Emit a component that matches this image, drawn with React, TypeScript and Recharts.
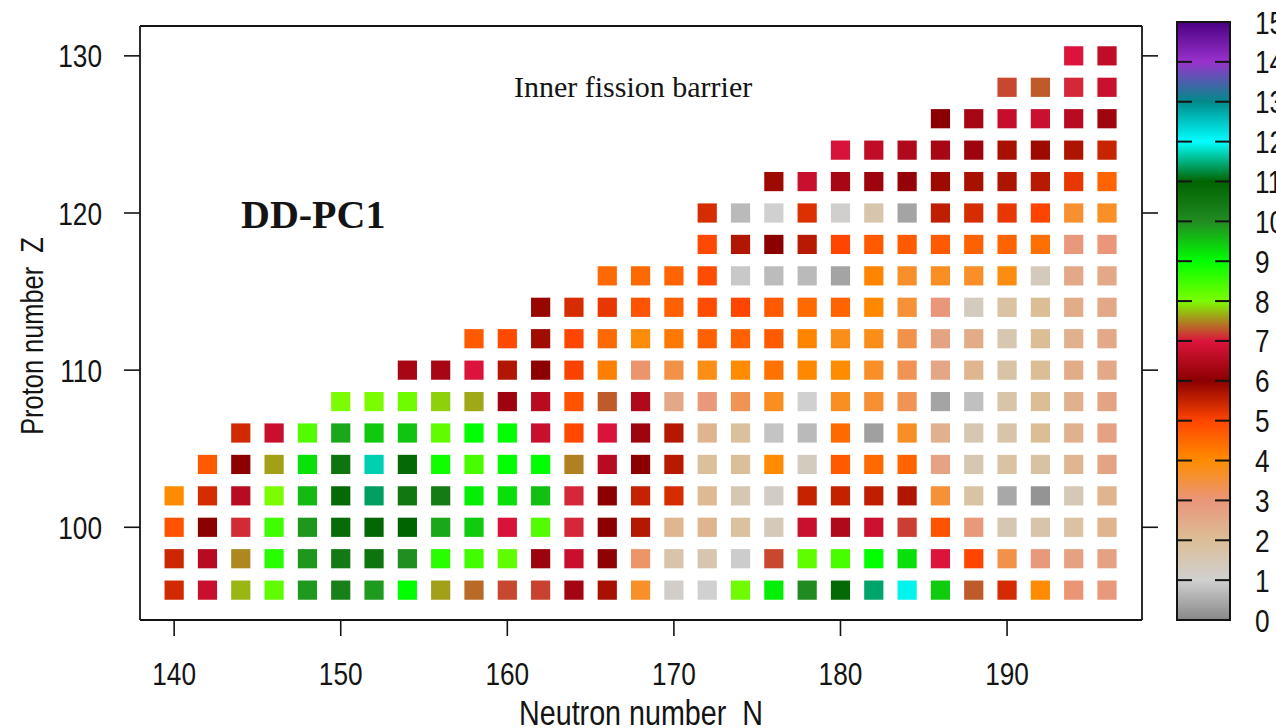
import React from 'react';
import { ScatterChart, Scatter, XAxis, YAxis } from 'recharts';

// Frame ticks
const neutronTicks = [140, 150, 160, 170, 180, 190];
const protonTicks = [100, 110, 120, 130];
const scaleTicks = [0, 1, 2, 3, 4, 5, 6, 7, 8, 9, 10, 11, 12, 13, 14, 15];

// Inner fission barrier heights (MeV) along each even-Z chain, listed from the first N of the chain in steps of 2
const barrierZ96 = [5.4, 6.75, 7.7, 8.23, 9.88, 10.28, 9.87, 9.0, 7.6, 7.37, 7.22, 7.2, 6.3, 5.75, 3.67, 1.1, 1.0, 8.1, 9.15, 10.03, 10.85, 11.42, 11.93, 9.44, 7.3, 5.37, 4.0, 3.05, 2.95];
const barrierZ98 = [5.44, 6.56, 7.5, 8.68, 9.9, 10.44, 10.6, 9.97, 8.68, 8.48, 8.23, 6.2, 6.75, 6.05, 3.15, 1.65, 1.6, 0.94, 7.22, 8.23, 8.42, 9.0, 9.27, 7.0, 5.0, 3.41, 2.93, 2.7, 2.7];
const barrierZ100 = [4.8, 6.0, 7.1, 8.48, 9.9, 10.8, 10.9, 11.0, 9.75, 9.44, 6.95, 8.35, 7.08, 6.0, 5.65, 2.2, 2.25, 1.85, 1.4, 6.75, 6.45, 6.8, 7.18, 4.8, 2.93, 1.5, 1.65, 1.8, 2.25];
const barrierZ102 = [4.0, 5.35, 6.56, 8.0, 9.6, 10.85, 11.39, 10.5, 10.38, 9.15, 9.27, 9.54, 7.08, 6.0, 5.5, 5.35, 2.1, 1.5, 1.2, 5.5, 5.52, 5.55, 5.68, 3.55, 1.75, 0.44, 0.17, 1.45, 2.25];
const barrierZ104 = [4.7, 6.0, 7.6, 9.26, 10.6, 11.7, 10.85, 8.87, 8.42, 9.0, 9.0, 7.47, 6.56, 6.0, 5.62, 1.9, 1.95, 4.0, 1.3, 4.7, 4.48, 4.56, 2.68, 1.5, 1.8, 1.78, 2.2, 2.65];
const barrierZ106 = [5.4, 6.75, 8.35, 9.75, 9.47, 9.51, 8.23, 9.0, 9.0, 6.75, 4.96, 6.97, 6.22, 5.65, 2.25, 1.9, 0.83, 0.69, 4.48, 0.33, 3.7, 2.35, 1.5, 1.65, 2.0, 2.35, 2.72];
const barrierZ108 = [8.0, 8.0, 8.1, 7.81, 7.64, 6.22, 6.55, 4.8, 7.3, 6.45, 2.55, 2.95, 3.3, 3.74, 1.0, 3.72, 3.58, 3.3, 0.39, 0.78, 1.68, 2.0, 2.35, 2.65];
const barrierZ110 = [6.35, 6.35, 7.0, 5.68, 5.98, 5.05, 4.17, 3.1, 3.41, 3.84, 4.0, 4.36, 4.05, 4.0, 3.67, 3.3, 2.6, 2.2, 1.72, 2.0, 2.45, 2.55];
const barrierZ112 = [4.7, 4.96, 5.82, 5.0, 4.48, 3.93, 4.28, 4.6, 4.6, 4.7, 4.1, 3.8, 3.8, 3.4, 2.65, 2.45, 1.55, 2.0, 2.35, 2.55];
const barrierZ114 = [5.9, 5.35, 5.2, 4.8, 4.6, 4.9, 5.0, 4.7, 4.48, 4.56, 4.05, 3.55, 3.0, 1.3, 1.8, 2.0, 2.45, 2.55];
const barrierZ116 = [4.48, 4.48, 4.56, 4.9, 0.89, 0.72, 0.69, 0.39, 4.1, 3.65, 3.72, 3.67, 3.87, 1.35, 2.55, 2.55];
const barrierZ118 = [4.96, 5.68, 6.0, 5.62, 5.0, 4.7, 4.7, 4.7, 4.6, 4.56, 4.4, 2.95, 3.0];
const barrierZ120 = [5.35, 0.69, 1.0, 5.3, 1.05, 1.6, 0.39, 5.55, 5.35, 5.2, 5.02, 3.6, 3.68];
const barrierZ122 = [5.85, 6.75, 6.35, 6.22, 6.12, 5.85, 5.75, 5.7, 5.62, 5.2, 4.56];
const barrierZ124 = [6.95, 6.65, 6.45, 6.35, 6.22, 5.75, 5.85, 5.7, 5.48];
const barrierZ126 = [6.0, 6.35, 6.72, 6.78, 6.55, 6.25];
const barrierZ128 = [7.22, 7.3, 7.08, 6.78];
const barrierZ130 = [7.0, 6.65];

const chains = [
  { z: 96, firstN: 140, heights: barrierZ96 },
  { z: 98, firstN: 140, heights: barrierZ98 },
  { z: 100, firstN: 140, heights: barrierZ100 },
  { z: 102, firstN: 140, heights: barrierZ102 },
  { z: 104, firstN: 142, heights: barrierZ104 },
  { z: 106, firstN: 144, heights: barrierZ106 },
  { z: 108, firstN: 150, heights: barrierZ108 },
  { z: 110, firstN: 154, heights: barrierZ110 },
  { z: 112, firstN: 158, heights: barrierZ112 },
  { z: 114, firstN: 162, heights: barrierZ114 },
  { z: 116, firstN: 166, heights: barrierZ116 },
  { z: 118, firstN: 172, heights: barrierZ118 },
  { z: 120, firstN: 172, heights: barrierZ120 },
  { z: 122, firstN: 176, heights: barrierZ122 },
  { z: 124, firstN: 180, heights: barrierZ124 },
  { z: 126, firstN: 186, heights: barrierZ126 },
  { z: 128, firstN: 190, heights: barrierZ128 },
  { z: 130, firstN: 194, heights: barrierZ130 },
];

const cells = chains.flatMap((c) =>
  c.heights.map((b, i) => ({ n: c.firstN + 2 * i, z: c.z, b }))
);

// Colour scale for barrier height, 0 .. 15 MeV
const scaleStops: [number, string][] = [
  [0, '#888888'],
  [1, '#d0d0d0'],
  [2, '#dcbe96'],
  [3, '#e9967a'],
  [4, '#ff8c00'],
  [5, '#ff4500'],
  [6, '#8b0000'],
  [7, '#dc143c'],
  [8, '#7cfc00'],
  [9, '#00ff00'],
  [10, '#228b22'],
  [11, '#006400'],
  [12, '#00ffff'],
  [13, '#008b8b'],
  [14, '#9932cc'],
  [15, '#4b0082'],
];

const hexToRgb = (h: string) => [
  parseInt(h.slice(1, 3), 16),
  parseInt(h.slice(3, 5), 16),
  parseInt(h.slice(5, 7), 16),
];

function barrierColor(v: number): string {
  const x = Math.max(0, Math.min(15, v));
  for (let i = 0; i < scaleStops.length - 1; i++) {
    const [v0, c0] = scaleStops[i];
    const [v1, c1] = scaleStops[i + 1];
    if (x <= v1) {
      const t = (x - v0) / (v1 - v0);
      const a = hexToRgb(c0);
      const b = hexToRgb(c1);
      const m = a.map((q, k) => Math.round(q + (b[k] - q) * t));
      return `rgb(${m[0]},${m[1]},${m[2]})`;
    }
  }
  return scaleStops[scaleStops.length - 1][1];
}

const SANS = "'Liberation Sans', Arial, Helvetica, sans-serif";
const SERIF = "'Liberation Serif', 'Times New Roman', Times, serif";
const INK = '#141414';
const NARROW = 0.82;
const LABEL_SIZE = 32;

const CELL = 19.2;
const renderCell = (props: any) => {
  const { cx, cy, payload } = props;
  if (cx == null || cy == null) return <g />;
  return (
    <rect
      x={cx - CELL / 2}
      y={cy - CELL / 2}
      width={CELL}
      height={CELL}
      fill={barrierColor(payload.b)}
    />
  );
};

const NeutronTick = (props: any) => {
  const { x, y, payload } = props;
  return (
    <text
      transform={`translate(${x},${y + 49}) scale(${NARROW},1)`}
      textAnchor="middle"
      fontFamily={SANS}
      fontSize={LABEL_SIZE}
      fill={INK}
    >
      {payload.value}
    </text>
  );
};

const ProtonTick = (props: any) => {
  const { x, y, payload } = props;
  return (
    <text
      transform={`translate(${x - 22},${y + 11.5}) scale(${NARROW},1)`}
      textAnchor="end"
      fontFamily={SANS}
      fontSize={LABEL_SIZE}
      fill={INK}
    >
      {payload.value}
    </text>
  );
};

const NoLabel = () => <g />;

const frameLine = { stroke: INK, strokeWidth: 1.8 };
const tickLine = { stroke: INK, strokeWidth: 1.6 };

const X_DOMAIN: [number, number] = [137.95, 198.1];
const Y_DOMAIN: [number, number] = [94.1, 131.9];

// Colour bar geometry
const BAR_LEFT = 1177;
const BAR_RIGHT = 1230;
const BAR_TOP = 22;
const BAR_BOTTOM = 620;
const barY = (v: number) => BAR_BOTTOM - (v / 15) * (BAR_BOTTOM - BAR_TOP);

function ColorBar() {
  return (
    <g>
      <defs>
        <linearGradient id="barrierScale" x1="0" y1="1" x2="0" y2="0">
          {scaleStops.map(([v, c]) => (
            <stop key={v} offset={v / 15} stopColor={c} />
          ))}
        </linearGradient>
      </defs>
      <rect
        x={BAR_LEFT}
        y={BAR_TOP}
        width={BAR_RIGHT - BAR_LEFT}
        height={BAR_BOTTOM - BAR_TOP}
        fill="url(#barrierScale)"
        stroke={INK}
        strokeWidth={2}
      />
      {scaleTicks
        .filter((v) => v > 0 && v < 15)
        .map((v) => (
          <g key={v}>
            <line x1={BAR_LEFT} x2={BAR_LEFT + 15} y1={barY(v)} y2={barY(v)} stroke={INK} strokeWidth={2} />
            <line x1={BAR_RIGHT - 15} x2={BAR_RIGHT} y1={barY(v)} y2={barY(v)} stroke={INK} strokeWidth={2} />
          </g>
        ))}
      {scaleTicks.map((v) => (
        <text
          key={v}
          transform={`translate(1255,${barY(v) + 11.5}) scale(${NARROW},1)`}
          fontFamily={SANS}
          fontSize={LABEL_SIZE}
          fill={INK}
        >
          {v}
        </text>
      ))}
    </g>
  );
}

export default function App() {
  return (
    <div style={{ position: 'absolute', left: 0, top: 0, width: 1276, height: 728, background: '#ffffff' }}>
      <ScatterChart width={1276} height={728} margin={{ top: 10, right: 118, bottom: 0, left: 0 }}>
        <XAxis
          xAxisId="bottom"
          type="number"
          dataKey="n"
          orientation="bottom"
          domain={X_DOMAIN}
          allowDataOverflow
          ticks={neutronTicks}
          interval={0}
          height={108}
          tickSize={16}
          tickMargin={0}
          tick={<NeutronTick />}
          axisLine={frameLine}
          tickLine={tickLine}
        />
        <XAxis
          xAxisId="top"
          type="number"
          orientation="top"
          domain={X_DOMAIN}
          allowDataOverflow
          ticks={neutronTicks}
          interval={0}
          height={16}
          tickSize={16}
          tickMargin={0}
          tick={<NoLabel />}
          axisLine={frameLine}
          tickLine={tickLine}
        />
        <YAxis
          yAxisId="left"
          type="number"
          dataKey="z"
          orientation="left"
          domain={Y_DOMAIN}
          allowDataOverflow
          ticks={protonTicks}
          interval={0}
          width={140}
          tickSize={16}
          tickMargin={0}
          tick={<ProtonTick />}
          axisLine={frameLine}
          tickLine={tickLine}
        />
        <YAxis
          yAxisId="right"
          type="number"
          orientation="right"
          domain={Y_DOMAIN}
          allowDataOverflow
          ticks={protonTicks}
          interval={0}
          width={16}
          tickSize={16}
          tickMargin={0}
          tick={<NoLabel />}
          axisLine={frameLine}
          tickLine={tickLine}
        />
        <Scatter
          data={cells}
          xAxisId="bottom"
          yAxisId="left"
          shape={renderCell}
          isAnimationActive={false}
        />
      </ScatterChart>
      <svg
        width={1276}
        height={728}
        style={{ position: 'absolute', left: 0, top: 0, pointerEvents: 'none' }}
      >
        <text x={514} y={97} fontFamily={SERIF} fontSize={30} fill={INK}>
          Inner fission barrier
        </text>
        <text x={241} y={228} fontFamily={SERIF} fontSize={40} fontWeight="bold" fill={INK}>
          DD-PC1
        </text>
        <text
          transform={`translate(641,725) scale(${NARROW},1)`}
          textAnchor="middle"
          fontFamily={SANS}
          fontSize={35}
          fill={INK}
          style={{ whiteSpace: 'pre' }}
        >
          {'Neutron number  N'}
        </text>
        <text
          transform={`translate(43,336) rotate(-90) scale(${NARROW},1)`}
          textAnchor="middle"
          fontFamily={SANS}
          fontSize={31}
          fill={INK}
          style={{ whiteSpace: 'pre' }}
        >
          {'Proton number  Z'}
        </text>
        <ColorBar />
      </svg>
    </div>
  );
}
